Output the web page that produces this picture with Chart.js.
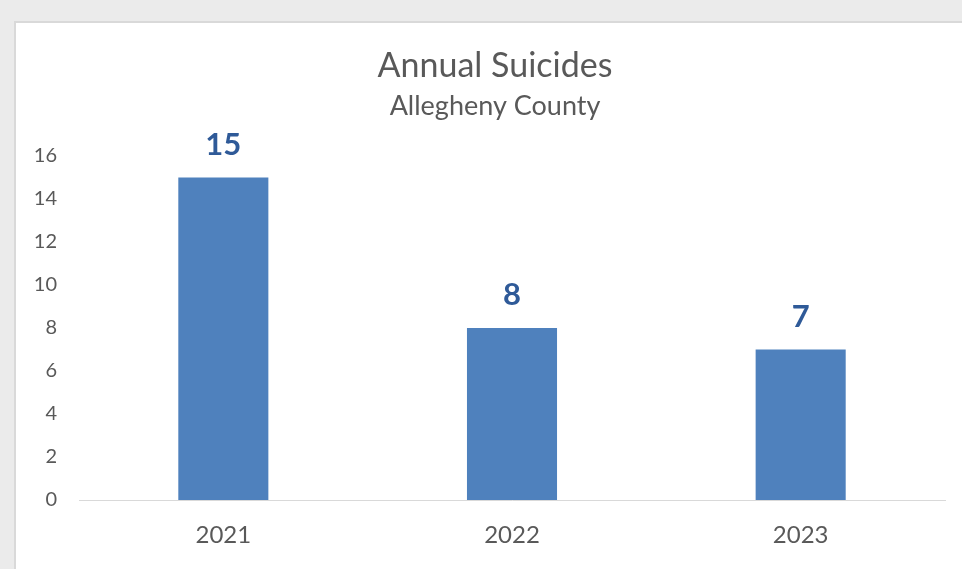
<!DOCTYPE html>
<html>
<head>
<meta charset="utf-8">
<script src="https://cdn.jsdelivr.net/npm/chart.js@4/dist/chart.umd.min.js"></script>
<style>
  html, body { margin: 0; padding: 0; background: #EBEBEB; }
  #wrap { width: 962px; height: 569px; position: relative; }
</style>
</head>
<body>
<div id="wrap"><canvas id="c" width="962" height="569"></canvas></div>
<script>
const years = ['2021', '2022', '2023'];
const suicides = [15, 8, 7];
const yTicks = [0, 2, 4, 6, 8, 10, 12, 14, 16];
const titleText = 'Annual Suicides';
const subtitleText = 'Allegheny County';

const FONT = "Lato, 'Open Sans', sans-serif";
const GREY_TEXT = '#595959';
const BAR_BLUE = '#4F81BD';
const LABEL_BLUE = '#2F5A98';

// Grey page with a white chart panel and a thin border on top/left
const panelPlugin = {
  id: 'panel',
  beforeDraw(chart) {
    const ctx = chart.ctx;
    ctx.save();
    ctx.fillStyle = '#EBEBEB';
    ctx.fillRect(0, 0, chart.width, chart.height);
    ctx.fillStyle = '#D9D9D9';
    ctx.fillRect(14, 21, chart.width - 14, chart.height - 21);
    ctx.fillStyle = '#FFFFFF';
    ctx.fillRect(16, 23, chart.width - 16, chart.height - 23);
    ctx.restore();
  }
};

// Title and subtitle, centred on the whole panel rather than the plot
const headingPlugin = {
  id: 'heading',
  afterDraw(chart) {
    const ctx = chart.ctx;
    const cx = 495;
    ctx.save();
    ctx.fillStyle = GREY_TEXT;
    ctx.textAlign = 'center';
    ctx.textBaseline = 'middle';
    ctx.font = "34px " + FONT;
    ctx.fillText(titleText, cx, 66);
    ctx.font = "27px " + FONT;
    ctx.fillText(subtitleText, cx, 106);
    ctx.restore();
  }
};

// Bold value labels above each bar
const valueLabels = {
  id: 'valueLabels',
  afterDatasetsDraw(chart) {
    const ctx = chart.ctx;
    const meta = chart.getDatasetMeta(0);
    ctx.save();
    ctx.font = "bold 31px " + FONT;
    ctx.fillStyle = LABEL_BLUE;
    ctx.textAlign = 'center';
    ctx.textBaseline = 'middle';
    meta.data.forEach((bar, i) => {
      ctx.fillText(String(suicides[i]), bar.x, bar.y - 33);
    });
    ctx.restore();
  }
};

new Chart(document.getElementById('c'), {
  type: 'bar',
  data: {
    labels: years,
    datasets: [{
      data: suicides,
      backgroundColor: BAR_BLUE,
      borderWidth: 0,
      categoryPercentage: 1,
      barPercentage: 0.312
    }]
  },
  options: {
    responsive: false,
    animation: false,
    events: [],
    layout: { padding: { left: 15, right: 17, top: 156, bottom: 0 } },
    plugins: {
      legend: { display: false },
      tooltip: { enabled: false },
      title: { display: false },
      subtitle: { display: false }
    },
    scales: {
      x: {
        grid: { display: false, drawTicks: false },
        border: { display: true, color: '#D9D9D9', width: 1 },
        ticks: { color: GREY_TEXT, font: { family: FONT, size: 24 }, padding: 21 },
        afterFit(scale) { scale.height = 69; }
      },
      y: {
        min: 0,
        max: 16,
        grid: { display: false, drawTicks: false },
        border: { display: false },
        afterBuildTicks(scale) { scale.ticks = yTicks.map(v => ({ value: v })); },
        ticks: { color: GREY_TEXT, font: { family: FONT, size: 20 }, padding: 22 },
        afterFit(scale) { scale.width = 64; }
      }
    }
  },
  plugins: [panelPlugin, headingPlugin, valueLabels]
});
</script>
</body>
</html>
